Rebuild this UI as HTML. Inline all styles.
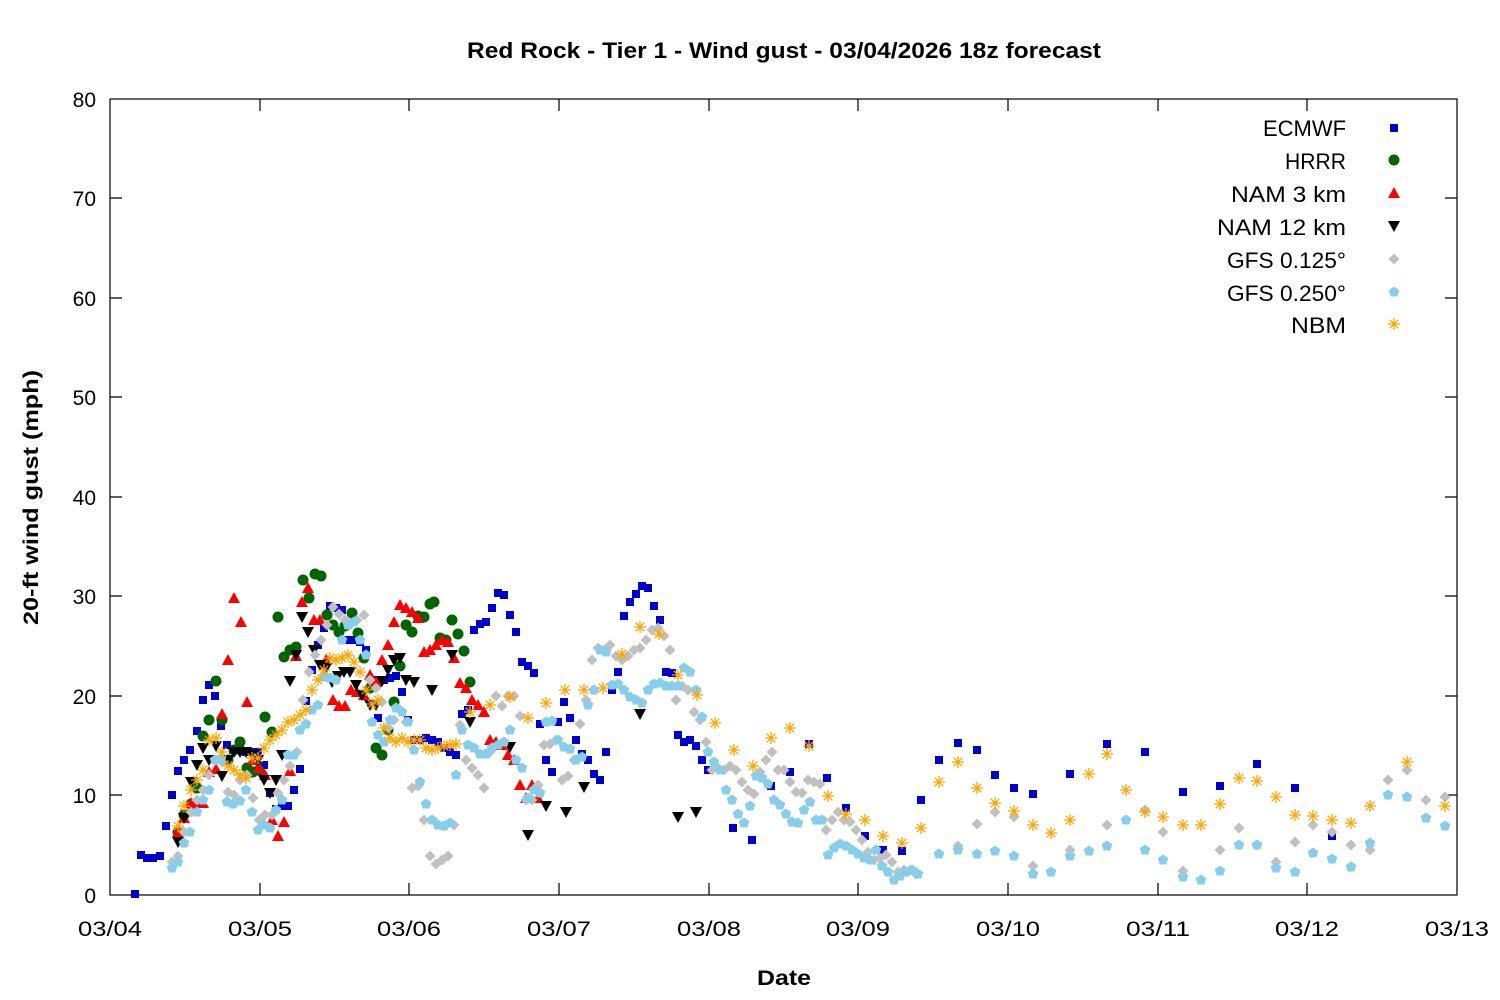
<!DOCTYPE html>
<html><head><meta charset="utf-8"><style>html,body{margin:0;padding:0;background:#fff}svg{display:block}text{font-family:"Liberation Sans","DejaVu Sans",sans-serif}</style></head><body>
<svg width="1500" height="1000" viewBox="0 0 1500 1000" xmlns="http://www.w3.org/2000/svg">
<defs>
<rect id="s" x="-4" y="-4" width="8" height="8" fill="#0000cc"/>
<circle id="c" r="5.5" fill="#006400"/>
<path id="t" d="M0,-6 L6,5 L-6,5Z" fill="#ff0000"/>
<path id="v" d="M0,6 L6,-5 L-6,-5Z" fill="#000"/>
<path id="d" d="M0,-5.5 L5.5,0 L0,5.5 L-5.5,0Z" fill="#c0c0c0"/>
<path id="h" d="M0,-5.5 L5.3,-1.7 L3.3,4.5 L-3.3,4.5 L-5.3,-1.7Z" fill="#87ceeb"/>
<g id="a" stroke="#ffa500" stroke-width="1.3"><path d="M-6,0H6M0,-6V6M-4.3,-4.3L4.3,4.3M-4.3,4.3L4.3,-4.3"/></g>
</defs>
<text x="467" y="58" font-size="22" font-weight="bold" textLength="634" lengthAdjust="spacingAndGlyphs">Red Rock - Tier 1 - Wind gust - 03/04/2026 18z forecast</text>
<text transform="translate(38,625) rotate(-90)" font-size="21" font-weight="bold" textLength="255" lengthAdjust="spacingAndGlyphs">20-ft wind gust (mph)</text>
<text x="757" y="985" font-size="21" font-weight="bold" textLength="54" lengthAdjust="spacingAndGlyphs">Date</text>
<g font-size="21" text-anchor="end">
<text x="96" y="903">0</text><text x="96" y="803">10</text><text x="96" y="704">20</text><text x="96" y="604">30</text><text x="96" y="505">40</text><text x="96" y="405">50</text><text x="96" y="306">60</text><text x="96" y="206">70</text><text x="96" y="107">80</text>
</g>
<g font-size="21">
<text x="78" y="936" textLength="64" lengthAdjust="spacingAndGlyphs">03/04</text><text x="228" y="936" textLength="64" lengthAdjust="spacingAndGlyphs">03/05</text><text x="377" y="936" textLength="64" lengthAdjust="spacingAndGlyphs">03/06</text><text x="527" y="936" textLength="64" lengthAdjust="spacingAndGlyphs">03/07</text><text x="677" y="936" textLength="64" lengthAdjust="spacingAndGlyphs">03/08</text><text x="826" y="936" textLength="64" lengthAdjust="spacingAndGlyphs">03/09</text><text x="976" y="936" textLength="64" lengthAdjust="spacingAndGlyphs">03/10</text><text x="1126" y="936" textLength="64" lengthAdjust="spacingAndGlyphs">03/11</text><text x="1275" y="936" textLength="64" lengthAdjust="spacingAndGlyphs">03/12</text><text x="1425" y="936" textLength="64" lengthAdjust="spacingAndGlyphs">03/13</text>
</g>
<g stroke="#000" stroke-width="1.2" fill="none">
<rect x="110" y="99" width="1347" height="796"/>
<path d="M110,795h12M110,696h12M110,596h12M110,497h12M110,397h12M110,298h12M110,198h12M1457,795h-12M1457,696h-12M1457,596h-12M1457,497h-12M1457,397h-12M1457,298h-12M1457,198h-12"/>
<path d="M260,895v-12M409,895v-12M559,895v-12M709,895v-12M858,895v-12M1008,895v-12M1158,895v-12M1307,895v-12M260,99v12M409,99v12M559,99v12M709,99v12M858,99v12M1008,99v12M1158,99v12M1307,99v12"/>
</g>
<g font-size="22">
<text x="1263" y="136" textLength="83" lengthAdjust="spacingAndGlyphs">ECMWF</text><text x="1285" y="169" textLength="61" lengthAdjust="spacingAndGlyphs">HRRR</text><text x="1231" y="202" textLength="115" lengthAdjust="spacingAndGlyphs">NAM 3 km</text><text x="1217" y="235" textLength="129" lengthAdjust="spacingAndGlyphs">NAM 12 km</text><text x="1227" y="268" textLength="119" lengthAdjust="spacingAndGlyphs">GFS 0.125°</text><text x="1227" y="301" textLength="119" lengthAdjust="spacingAndGlyphs">GFS 0.250°</text><text x="1291" y="333" textLength="55" lengthAdjust="spacingAndGlyphs">NBM</text>
</g>
<use href="#s" x="1394" y="128"/><use href="#c" x="1394" y="160"/><use href="#t" x="1394" y="193"/><use href="#v" x="1394" y="226"/><use href="#d" x="1394" y="259"/><use href="#h" x="1394" y="292"/><use href="#a" x="1394" y="324"/>
<g>
<use href="#s" x="135" y="894"/><use href="#s" x="141" y="855"/><use href="#s" x="147" y="858"/><use href="#s" x="153" y="858"/><use href="#s" x="160" y="856"/><use href="#s" x="166" y="826"/><use href="#s" x="172" y="795"/><use href="#s" x="178" y="771"/><use href="#s" x="184" y="760"/><use href="#s" x="190" y="750"/><use href="#s" x="197" y="731"/><use href="#s" x="203" y="700"/><use href="#s" x="209" y="685"/><use href="#s" x="215" y="696"/><use href="#s" x="221" y="726"/><use href="#s" x="227" y="745"/><use href="#s" x="233" y="750"/><use href="#s" x="240" y="750"/><use href="#s" x="246" y="752"/><use href="#s" x="252" y="752"/><use href="#s" x="258" y="752"/><use href="#s" x="264" y="765"/><use href="#s" x="270" y="793"/><use href="#s" x="276" y="809"/><use href="#s" x="282" y="806"/><use href="#s" x="288" y="806"/><use href="#s" x="294" y="790"/><use href="#s" x="300" y="769"/><use href="#s" x="306" y="701"/><use href="#s" x="312" y="670"/><use href="#s" x="318" y="645"/><use href="#s" x="324" y="628"/><use href="#s" x="330" y="606"/><use href="#s" x="336" y="608"/><use href="#s" x="342" y="610"/><use href="#s" x="348" y="640"/><use href="#s" x="354" y="640"/><use href="#s" x="360" y="642"/><use href="#s" x="366" y="650"/><use href="#s" x="372" y="680"/><use href="#s" x="378" y="718"/><use href="#s" x="384" y="680"/><use href="#s" x="390" y="678"/><use href="#s" x="396" y="676"/><use href="#s" x="402" y="692"/><use href="#s" x="408" y="720"/><use href="#s" x="414" y="740"/><use href="#s" x="420" y="740"/><use href="#s" x="426" y="738"/><use href="#s" x="432" y="740"/><use href="#s" x="438" y="742"/><use href="#s" x="444" y="748"/><use href="#s" x="450" y="752"/><use href="#s" x="456" y="755"/><use href="#s" x="462" y="714"/><use href="#s" x="468" y="710"/><use href="#s" x="474" y="630"/><use href="#s" x="480" y="624"/><use href="#s" x="486" y="622"/><use href="#s" x="492" y="608"/><use href="#s" x="498" y="593"/><use href="#s" x="504" y="595"/><use href="#s" x="510" y="615"/><use href="#s" x="516" y="632"/><use href="#s" x="522" y="662"/><use href="#s" x="528" y="666"/><use href="#s" x="534" y="673"/><use href="#s" x="540" y="724"/><use href="#s" x="546" y="760"/><use href="#s" x="552" y="772"/><use href="#s" x="558" y="722"/><use href="#s" x="564" y="702"/><use href="#s" x="570" y="718"/><use href="#s" x="576" y="740"/><use href="#s" x="582" y="754"/><use href="#s" x="588" y="760"/><use href="#s" x="594" y="774"/><use href="#s" x="600" y="780"/><use href="#s" x="606" y="752"/><use href="#s" x="612" y="690"/><use href="#s" x="618" y="672"/><use href="#s" x="624" y="616"/><use href="#s" x="630" y="602"/><use href="#s" x="636" y="594"/><use href="#s" x="642" y="586"/><use href="#s" x="648" y="588"/><use href="#s" x="654" y="606"/><use href="#s" x="660" y="620"/><use href="#s" x="666" y="672"/><use href="#s" x="672" y="673"/><use href="#s" x="678" y="735"/><use href="#s" x="684" y="742"/><use href="#s" x="690" y="740"/><use href="#s" x="696" y="746"/><use href="#s" x="702" y="760"/><use href="#s" x="708" y="770"/><use href="#s" x="733" y="828"/><use href="#s" x="752" y="840"/><use href="#s" x="771" y="786"/><use href="#s" x="790" y="772"/><use href="#s" x="809" y="744"/><use href="#s" x="827" y="778"/><use href="#s" x="846" y="808"/><use href="#s" x="865" y="836"/><use href="#s" x="883" y="850"/><use href="#s" x="902" y="851"/><use href="#s" x="921" y="800"/><use href="#s" x="939" y="760"/><use href="#s" x="958" y="743"/><use href="#s" x="977" y="750"/><use href="#s" x="995" y="775"/><use href="#s" x="1014" y="788"/><use href="#s" x="1033" y="794"/><use href="#s" x="1070" y="774"/><use href="#s" x="1107" y="744"/><use href="#s" x="1145" y="752"/><use href="#s" x="1183" y="792"/><use href="#s" x="1220" y="786"/><use href="#s" x="1257" y="764"/><use href="#s" x="1295" y="788"/><use href="#s" x="1332" y="836"/>
</g>
<g>
<use href="#c" x="178" y="832"/><use href="#c" x="184" y="815"/><use href="#c" x="191" y="804"/><use href="#c" x="197" y="788"/><use href="#c" x="203" y="736"/><use href="#c" x="209" y="720"/><use href="#c" x="216" y="681"/><use href="#c" x="222" y="720"/><use href="#c" x="228" y="760"/><use href="#c" x="234" y="750"/><use href="#c" x="240" y="742"/><use href="#c" x="247" y="768"/><use href="#c" x="253" y="772"/><use href="#c" x="259" y="770"/><use href="#c" x="265" y="717"/><use href="#c" x="272" y="732"/><use href="#c" x="278" y="617"/><use href="#c" x="284" y="657"/><use href="#c" x="290" y="650"/><use href="#c" x="296" y="647"/><use href="#c" x="303" y="580"/><use href="#c" x="309" y="598"/><use href="#c" x="315" y="574"/><use href="#c" x="321" y="576"/><use href="#c" x="327" y="615"/><use href="#c" x="333" y="625"/><use href="#c" x="339" y="632"/><use href="#c" x="345" y="626"/><use href="#c" x="352" y="613"/><use href="#c" x="358" y="633"/><use href="#c" x="364" y="658"/><use href="#c" x="370" y="688"/><use href="#c" x="376" y="748"/><use href="#c" x="382" y="755"/><use href="#c" x="388" y="730"/><use href="#c" x="394" y="702"/><use href="#c" x="400" y="666"/><use href="#c" x="406" y="625"/><use href="#c" x="412" y="632"/><use href="#c" x="418" y="616"/><use href="#c" x="424" y="617"/><use href="#c" x="430" y="604"/><use href="#c" x="434" y="602"/><use href="#c" x="440" y="638"/><use href="#c" x="446" y="640"/><use href="#c" x="452" y="620"/><use href="#c" x="458" y="634"/><use href="#c" x="464" y="651"/><use href="#c" x="470" y="682"/>
</g>
<g>
<use href="#t" x="178" y="832"/><use href="#t" x="184" y="818"/><use href="#t" x="191" y="803"/><use href="#t" x="197" y="803"/><use href="#t" x="203" y="803"/><use href="#t" x="209" y="772"/><use href="#t" x="216" y="769"/><use href="#t" x="222" y="714"/><use href="#t" x="228" y="660"/><use href="#t" x="234" y="598"/><use href="#t" x="241" y="622"/><use href="#t" x="247" y="702"/><use href="#t" x="253" y="760"/><use href="#t" x="259" y="768"/><use href="#t" x="265" y="775"/><use href="#t" x="272" y="820"/><use href="#t" x="278" y="836"/><use href="#t" x="284" y="822"/><use href="#t" x="290" y="771"/><use href="#t" x="296" y="656"/><use href="#t" x="302" y="602"/><use href="#t" x="308" y="588"/><use href="#t" x="314" y="620"/><use href="#t" x="320" y="620"/><use href="#t" x="326" y="660"/><use href="#t" x="333" y="700"/><use href="#t" x="339" y="706"/><use href="#t" x="345" y="706"/><use href="#t" x="351" y="690"/><use href="#t" x="357" y="692"/><use href="#t" x="364" y="695"/><use href="#t" x="370" y="675"/><use href="#t" x="376" y="682"/><use href="#t" x="382" y="660"/><use href="#t" x="388" y="645"/><use href="#t" x="394" y="622"/><use href="#t" x="400" y="605"/><use href="#t" x="406" y="608"/><use href="#t" x="412" y="612"/><use href="#t" x="418" y="618"/><use href="#t" x="424" y="652"/><use href="#t" x="430" y="650"/><use href="#t" x="436" y="645"/><use href="#t" x="442" y="640"/><use href="#t" x="448" y="642"/><use href="#t" x="454" y="658"/><use href="#t" x="460" y="683"/><use href="#t" x="466" y="688"/><use href="#t" x="472" y="700"/><use href="#t" x="478" y="705"/><use href="#t" x="484" y="712"/><use href="#t" x="490" y="740"/><use href="#t" x="496" y="742"/><use href="#t" x="502" y="745"/><use href="#t" x="508" y="755"/><use href="#t" x="514" y="760"/><use href="#t" x="520" y="785"/><use href="#t" x="526" y="798"/><use href="#t" x="532" y="785"/><use href="#t" x="538" y="798"/>
</g>
<g>
<use href="#v" x="178" y="842"/><use href="#v" x="184" y="818"/><use href="#v" x="191" y="782"/><use href="#v" x="197" y="765"/><use href="#v" x="203" y="748"/><use href="#v" x="209" y="760"/><use href="#v" x="216" y="746"/><use href="#v" x="222" y="776"/><use href="#v" x="228" y="760"/><use href="#v" x="234" y="752"/><use href="#v" x="240" y="752"/><use href="#v" x="246" y="752"/><use href="#v" x="252" y="755"/><use href="#v" x="258" y="760"/><use href="#v" x="264" y="780"/><use href="#v" x="270" y="793"/><use href="#v" x="276" y="780"/><use href="#v" x="282" y="755"/><use href="#v" x="290" y="681"/><use href="#v" x="296" y="655"/><use href="#v" x="302" y="617"/><use href="#v" x="308" y="632"/><use href="#v" x="314" y="650"/><use href="#v" x="320" y="665"/><use href="#v" x="326" y="668"/><use href="#v" x="332" y="682"/><use href="#v" x="338" y="676"/><use href="#v" x="344" y="672"/><use href="#v" x="350" y="672"/><use href="#v" x="356" y="685"/><use href="#v" x="362" y="695"/><use href="#v" x="370" y="705"/><use href="#v" x="376" y="705"/><use href="#v" x="382" y="681"/><use href="#v" x="388" y="670"/><use href="#v" x="394" y="660"/><use href="#v" x="400" y="658"/><use href="#v" x="406" y="680"/><use href="#v" x="414" y="682"/><use href="#v" x="432" y="690"/><use href="#v" x="452" y="655"/><use href="#v" x="470" y="722"/><use href="#v" x="510" y="747"/><use href="#v" x="528" y="835"/><use href="#v" x="546" y="806"/><use href="#v" x="566" y="812"/><use href="#v" x="584" y="787"/><use href="#v" x="640" y="714"/><use href="#v" x="678" y="817"/><use href="#v" x="696" y="812"/>
</g>
<g>
<use href="#d" x="172" y="862"/><use href="#d" x="178" y="856"/><use href="#d" x="184" y="832"/><use href="#d" x="191" y="812"/><use href="#d" x="197" y="800"/><use href="#d" x="203" y="790"/><use href="#d" x="209" y="775"/><use href="#d" x="216" y="760"/><use href="#d" x="222" y="762"/><use href="#d" x="228" y="792"/><use href="#d" x="234" y="795"/><use href="#d" x="240" y="780"/><use href="#d" x="247" y="775"/><use href="#d" x="253" y="798"/><use href="#d" x="259" y="820"/><use href="#d" x="265" y="815"/><use href="#d" x="272" y="815"/><use href="#d" x="278" y="793"/><use href="#d" x="284" y="780"/><use href="#d" x="290" y="766"/><use href="#d" x="297" y="752"/><use href="#d" x="303" y="700"/><use href="#d" x="309" y="672"/><use href="#d" x="315" y="655"/><use href="#d" x="321" y="640"/><use href="#d" x="327" y="625"/><use href="#d" x="333" y="607"/><use href="#d" x="339" y="614"/><use href="#d" x="345" y="620"/><use href="#d" x="351" y="624"/><use href="#d" x="357" y="620"/><use href="#d" x="364" y="615"/><use href="#d" x="370" y="680"/><use href="#d" x="376" y="688"/><use href="#d" x="382" y="702"/><use href="#d" x="388" y="728"/><use href="#d" x="394" y="720"/><use href="#d" x="400" y="710"/><use href="#d" x="406" y="722"/><use href="#d" x="412" y="788"/><use href="#d" x="418" y="786"/><use href="#d" x="424" y="820"/><use href="#d" x="430" y="856"/><use href="#d" x="436" y="864"/><use href="#d" x="442" y="860"/><use href="#d" x="448" y="856"/><use href="#d" x="454" y="825"/><use href="#d" x="460" y="725"/><use href="#d" x="466" y="760"/><use href="#d" x="472" y="768"/><use href="#d" x="478" y="775"/><use href="#d" x="484" y="788"/><use href="#d" x="490" y="752"/><use href="#d" x="496" y="696"/><use href="#d" x="502" y="706"/><use href="#d" x="508" y="696"/><use href="#d" x="514" y="696"/><use href="#d" x="520" y="716"/><use href="#d" x="526" y="800"/><use href="#d" x="532" y="800"/><use href="#d" x="538" y="785"/><use href="#d" x="544" y="745"/><use href="#d" x="550" y="744"/><use href="#d" x="556" y="740"/><use href="#d" x="562" y="780"/><use href="#d" x="568" y="776"/><use href="#d" x="574" y="760"/><use href="#d" x="580" y="724"/><use href="#d" x="586" y="700"/><use href="#d" x="592" y="660"/><use href="#d" x="598" y="648"/><use href="#d" x="604" y="650"/><use href="#d" x="610" y="645"/><use href="#d" x="616" y="656"/><use href="#d" x="622" y="660"/><use href="#d" x="628" y="656"/><use href="#d" x="634" y="650"/><use href="#d" x="640" y="648"/><use href="#d" x="646" y="640"/><use href="#d" x="652" y="630"/><use href="#d" x="658" y="628"/><use href="#d" x="664" y="636"/><use href="#d" x="670" y="650"/><use href="#d" x="676" y="700"/><use href="#d" x="682" y="686"/><use href="#d" x="688" y="690"/><use href="#d" x="694" y="712"/><use href="#d" x="700" y="720"/><use href="#d" x="706" y="742"/><use href="#d" x="712" y="770"/><use href="#d" x="718" y="768"/><use href="#d" x="724" y="770"/><use href="#d" x="730" y="766"/><use href="#d" x="736" y="770"/><use href="#d" x="742" y="782"/><use href="#d" x="748" y="790"/><use href="#d" x="754" y="794"/><use href="#d" x="760" y="772"/><use href="#d" x="766" y="760"/><use href="#d" x="772" y="752"/><use href="#d" x="778" y="770"/><use href="#d" x="784" y="770"/><use href="#d" x="790" y="782"/><use href="#d" x="796" y="792"/><use href="#d" x="802" y="793"/><use href="#d" x="808" y="780"/><use href="#d" x="814" y="782"/><use href="#d" x="820" y="784"/><use href="#d" x="826" y="830"/><use href="#d" x="832" y="820"/><use href="#d" x="838" y="812"/><use href="#d" x="844" y="820"/><use href="#d" x="850" y="822"/><use href="#d" x="856" y="830"/><use href="#d" x="862" y="840"/><use href="#d" x="868" y="852"/><use href="#d" x="874" y="860"/><use href="#d" x="880" y="858"/><use href="#d" x="886" y="855"/><use href="#d" x="892" y="862"/><use href="#d" x="898" y="872"/><use href="#d" x="904" y="870"/><use href="#d" x="910" y="870"/><use href="#d" x="916" y="874"/><use href="#d" x="958" y="846"/><use href="#d" x="977" y="824"/><use href="#d" x="995" y="812"/><use href="#d" x="1014" y="817"/><use href="#d" x="1033" y="866"/><use href="#d" x="1070" y="850"/><use href="#d" x="1107" y="825"/><use href="#d" x="1145" y="810"/><use href="#d" x="1163" y="832"/><use href="#d" x="1183" y="871"/><use href="#d" x="1220" y="850"/><use href="#d" x="1239" y="828"/><use href="#d" x="1257" y="845"/><use href="#d" x="1276" y="862"/><use href="#d" x="1295" y="842"/><use href="#d" x="1313" y="825"/><use href="#d" x="1332" y="832"/><use href="#d" x="1351" y="845"/><use href="#d" x="1370" y="850"/><use href="#d" x="1388" y="780"/><use href="#d" x="1407" y="770"/><use href="#d" x="1426" y="800"/><use href="#d" x="1445" y="797"/>
</g>
<g>
<use href="#h" x="172" y="868"/><use href="#h" x="178" y="862"/><use href="#h" x="184" y="843"/><use href="#h" x="190" y="832"/><use href="#h" x="197" y="812"/><use href="#h" x="203" y="800"/><use href="#h" x="209" y="790"/><use href="#h" x="215" y="760"/><use href="#h" x="221" y="759"/><use href="#h" x="227" y="802"/><use href="#h" x="233" y="804"/><use href="#h" x="240" y="801"/><use href="#h" x="246" y="790"/><use href="#h" x="252" y="812"/><use href="#h" x="258" y="830"/><use href="#h" x="264" y="825"/><use href="#h" x="270" y="828"/><use href="#h" x="276" y="810"/><use href="#h" x="282" y="800"/><use href="#h" x="288" y="755"/><use href="#h" x="294" y="755"/><use href="#h" x="300" y="730"/><use href="#h" x="306" y="724"/><use href="#h" x="312" y="710"/><use href="#h" x="318" y="705"/><use href="#h" x="324" y="677"/><use href="#h" x="330" y="678"/><use href="#h" x="336" y="680"/><use href="#h" x="342" y="640"/><use href="#h" x="348" y="625"/><use href="#h" x="354" y="622"/><use href="#h" x="360" y="640"/><use href="#h" x="366" y="655"/><use href="#h" x="372" y="722"/><use href="#h" x="378" y="735"/><use href="#h" x="384" y="742"/><use href="#h" x="390" y="720"/><use href="#h" x="396" y="708"/><use href="#h" x="402" y="712"/><use href="#h" x="408" y="722"/><use href="#h" x="414" y="750"/><use href="#h" x="420" y="782"/><use href="#h" x="426" y="804"/><use href="#h" x="432" y="820"/><use href="#h" x="438" y="825"/><use href="#h" x="444" y="826"/><use href="#h" x="450" y="823"/><use href="#h" x="456" y="775"/><use href="#h" x="462" y="730"/><use href="#h" x="468" y="745"/><use href="#h" x="474" y="748"/><use href="#h" x="480" y="754"/><use href="#h" x="486" y="754"/><use href="#h" x="492" y="748"/><use href="#h" x="498" y="745"/><use href="#h" x="504" y="742"/><use href="#h" x="510" y="730"/><use href="#h" x="516" y="760"/><use href="#h" x="522" y="768"/><use href="#h" x="528" y="798"/><use href="#h" x="534" y="790"/><use href="#h" x="540" y="793"/><use href="#h" x="546" y="722"/><use href="#h" x="552" y="721"/><use href="#h" x="558" y="740"/><use href="#h" x="564" y="747"/><use href="#h" x="570" y="749"/><use href="#h" x="576" y="760"/><use href="#h" x="582" y="757"/><use href="#h" x="588" y="705"/><use href="#h" x="594" y="690"/><use href="#h" x="600" y="650"/><use href="#h" x="606" y="652"/><use href="#h" x="612" y="685"/><use href="#h" x="618" y="684"/><use href="#h" x="624" y="690"/><use href="#h" x="630" y="697"/><use href="#h" x="636" y="700"/><use href="#h" x="642" y="703"/><use href="#h" x="648" y="690"/><use href="#h" x="654" y="684"/><use href="#h" x="660" y="683"/><use href="#h" x="666" y="686"/><use href="#h" x="672" y="686"/><use href="#h" x="678" y="686"/><use href="#h" x="684" y="668"/><use href="#h" x="690" y="672"/><use href="#h" x="696" y="690"/><use href="#h" x="702" y="717"/><use href="#h" x="708" y="752"/><use href="#h" x="714" y="762"/><use href="#h" x="720" y="770"/><use href="#h" x="726" y="790"/><use href="#h" x="732" y="800"/><use href="#h" x="738" y="814"/><use href="#h" x="744" y="823"/><use href="#h" x="750" y="806"/><use href="#h" x="756" y="776"/><use href="#h" x="762" y="778"/><use href="#h" x="768" y="784"/><use href="#h" x="774" y="800"/><use href="#h" x="780" y="805"/><use href="#h" x="786" y="814"/><use href="#h" x="792" y="822"/><use href="#h" x="798" y="823"/><use href="#h" x="804" y="810"/><use href="#h" x="810" y="802"/><use href="#h" x="816" y="820"/><use href="#h" x="822" y="820"/><use href="#h" x="828" y="855"/><use href="#h" x="834" y="848"/><use href="#h" x="840" y="844"/><use href="#h" x="846" y="846"/><use href="#h" x="852" y="850"/><use href="#h" x="858" y="854"/><use href="#h" x="864" y="858"/><use href="#h" x="870" y="860"/><use href="#h" x="876" y="850"/><use href="#h" x="882" y="866"/><use href="#h" x="888" y="872"/><use href="#h" x="894" y="880"/><use href="#h" x="900" y="876"/><use href="#h" x="906" y="872"/><use href="#h" x="912" y="870"/><use href="#h" x="918" y="874"/><use href="#h" x="939" y="854"/><use href="#h" x="958" y="850"/><use href="#h" x="977" y="854"/><use href="#h" x="995" y="851"/><use href="#h" x="1014" y="856"/><use href="#h" x="1033" y="874"/><use href="#h" x="1051" y="872"/><use href="#h" x="1070" y="856"/><use href="#h" x="1089" y="851"/><use href="#h" x="1107" y="846"/><use href="#h" x="1126" y="820"/><use href="#h" x="1145" y="850"/><use href="#h" x="1163" y="860"/><use href="#h" x="1183" y="877"/><use href="#h" x="1201" y="880"/><use href="#h" x="1220" y="871"/><use href="#h" x="1239" y="845"/><use href="#h" x="1257" y="845"/><use href="#h" x="1276" y="868"/><use href="#h" x="1295" y="872"/><use href="#h" x="1313" y="853"/><use href="#h" x="1332" y="859"/><use href="#h" x="1351" y="867"/><use href="#h" x="1370" y="843"/><use href="#h" x="1388" y="795"/><use href="#h" x="1407" y="797"/><use href="#h" x="1426" y="818"/><use href="#h" x="1445" y="826"/>
</g>
<g>
<use href="#a" x="178" y="826"/><use href="#a" x="184" y="806"/><use href="#a" x="191" y="790"/><use href="#a" x="197" y="780"/><use href="#a" x="203" y="770"/><use href="#a" x="209" y="740"/><use href="#a" x="216" y="738"/><use href="#a" x="222" y="752"/><use href="#a" x="228" y="766"/><use href="#a" x="234" y="770"/><use href="#a" x="240" y="775"/><use href="#a" x="246" y="778"/><use href="#a" x="252" y="758"/><use href="#a" x="258" y="758"/><use href="#a" x="264" y="748"/><use href="#a" x="270" y="740"/><use href="#a" x="276" y="735"/><use href="#a" x="282" y="730"/><use href="#a" x="288" y="722"/><use href="#a" x="294" y="720"/><use href="#a" x="300" y="715"/><use href="#a" x="306" y="710"/><use href="#a" x="312" y="690"/><use href="#a" x="318" y="680"/><use href="#a" x="324" y="670"/><use href="#a" x="330" y="658"/><use href="#a" x="336" y="660"/><use href="#a" x="342" y="658"/><use href="#a" x="348" y="655"/><use href="#a" x="354" y="662"/><use href="#a" x="360" y="672"/><use href="#a" x="366" y="690"/><use href="#a" x="372" y="704"/><use href="#a" x="378" y="700"/><use href="#a" x="384" y="728"/><use href="#a" x="390" y="738"/><use href="#a" x="396" y="742"/><use href="#a" x="402" y="738"/><use href="#a" x="408" y="742"/><use href="#a" x="414" y="740"/><use href="#a" x="420" y="740"/><use href="#a" x="426" y="748"/><use href="#a" x="432" y="750"/><use href="#a" x="438" y="748"/><use href="#a" x="444" y="746"/><use href="#a" x="450" y="745"/><use href="#a" x="456" y="744"/><use href="#a" x="470" y="712"/><use href="#a" x="490" y="705"/><use href="#a" x="510" y="697"/><use href="#a" x="528" y="718"/><use href="#a" x="546" y="703"/><use href="#a" x="565" y="690"/><use href="#a" x="584" y="690"/><use href="#a" x="603" y="688"/><use href="#a" x="622" y="654"/><use href="#a" x="640" y="627"/><use href="#a" x="659" y="634"/><use href="#a" x="678" y="675"/><use href="#a" x="697" y="695"/><use href="#a" x="715" y="723"/><use href="#a" x="734" y="750"/><use href="#a" x="753" y="766"/><use href="#a" x="771" y="738"/><use href="#a" x="790" y="728"/><use href="#a" x="809" y="746"/><use href="#a" x="828" y="796"/><use href="#a" x="846" y="814"/><use href="#a" x="865" y="820"/><use href="#a" x="883" y="836"/><use href="#a" x="902" y="843"/><use href="#a" x="921" y="828"/><use href="#a" x="939" y="782"/><use href="#a" x="958" y="762"/><use href="#a" x="977" y="788"/><use href="#a" x="995" y="803"/><use href="#a" x="1014" y="811"/><use href="#a" x="1033" y="825"/><use href="#a" x="1051" y="833"/><use href="#a" x="1070" y="820"/><use href="#a" x="1089" y="774"/><use href="#a" x="1107" y="754"/><use href="#a" x="1126" y="790"/><use href="#a" x="1145" y="812"/><use href="#a" x="1163" y="817"/><use href="#a" x="1183" y="825"/><use href="#a" x="1201" y="825"/><use href="#a" x="1220" y="804"/><use href="#a" x="1239" y="778"/><use href="#a" x="1257" y="781"/><use href="#a" x="1276" y="797"/><use href="#a" x="1295" y="815"/><use href="#a" x="1313" y="816"/><use href="#a" x="1332" y="820"/><use href="#a" x="1351" y="823"/><use href="#a" x="1370" y="806"/><use href="#a" x="1407" y="762"/><use href="#a" x="1445" y="806"/>
</g>
</svg>
</body></html>
